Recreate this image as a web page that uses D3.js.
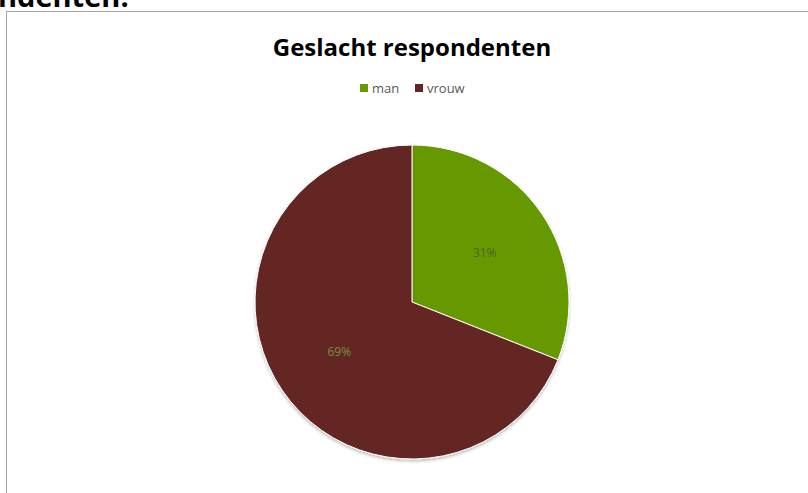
<!DOCTYPE html>
<html>
<head>
  <meta charset="utf-8">
  <title>Geslacht respondenten</title>
  <script src="https://cdn.jsdelivr.net/npm/d3@7"></script>
  <style>
    body { margin: 0; background: #fff; }
    svg { display: block; }
  </style>
</head>
<body>
<svg id="mainsvg" width="808" height="493"></svg>
<script>
  // data
  const categories = ['man', 'vrouw'];
  const values = [31, 69];
  const labels = ['31%', '69%'];
  const colors = ['#669900', '#632523'];
  const labelColors = ['#4f6228', '#77933c'];

  const svg = d3.select('#mainsvg');

  // heading from the page above the chart, cut off by the top edge
  svg.append('text')
    .attr('x', -2)
    .attr('y', 7)
    .attr('font-family', 'Open Sans, sans-serif')
    .attr('font-weight', 'bold')
    .attr('font-size', 29)
    .attr('fill', '#000')
    .text('ndenten:');

  // chart frame (runs off right and bottom)
  svg.append('rect')
    .attr('x', 6.5)
    .attr('y', 11.5)
    .attr('width', 900)
    .attr('height', 600)
    .attr('fill', '#fff')
    .attr('stroke', '#a6a6a6')
    .attr('stroke-width', 1);

  // title
  svg.append('text')
    .attr('x', 412)
    .attr('y', 56)
    .attr('text-anchor', 'middle')
    .attr('font-family', 'Open Sans, sans-serif')
    .attr('font-weight', 'bold')
    .attr('font-size', 24)
    .attr('fill', '#000')
    .text('Geslacht respondenten');

  // legend
  const legend = svg.append('g').attr('transform', 'translate(360,88)');
  const legendX = d3.scaleOrdinal().domain(categories).range([0, 55]);
  const item = legend.selectAll('g')
    .data(categories)
    .enter().append('g')
    .attr('transform', d => 'translate(' + legendX(d) + ',0)');
  item.append('rect')
    .attr('width', 8)
    .attr('height', 8)
    .attr('y', -4)
    .attr('fill', (d, i) => colors[i]);
  item.append('text')
    .attr('x', 12)
    .attr('dy', '.35em')
    .attr('font-family', 'Open Sans, sans-serif')
    .attr('font-size', 13)
    .attr('fill', '#595959')
    .text(d => d);

  // pie
  const cx = 412, cy = 302, r = 157;
  const pie = d3.pie().sort(null).value(d => d);
  const arc = d3.arc().innerRadius(0).outerRadius(r);
  const labelArc = d3.arc().innerRadius(r * 0.56).outerRadius(r * 0.56);

  const defs = svg.append('defs');
  const filter = defs.append('filter').attr('id', 'shadow')
    .attr('x', '-10%').attr('y', '-10%').attr('width', '120%').attr('height', '120%');
  filter.append('feDropShadow')
    .attr('dx', 0).attr('dy', 2).attr('stdDeviation', 1.5)
    .attr('flood-color', '#000').attr('flood-opacity', 0.25);

  const g = svg.append('g').attr('transform', 'translate(' + cx + ',' + cy + ')');
  const arcs = pie(values);

  g.selectAll('path')
    .data(arcs)
    .enter().append('path')
    .attr('d', arc)
    .attr('fill', (d, i) => colors[i])
    .attr('stroke', '#fff')
    .attr('stroke-width', 1)
    .attr('filter', 'url(#shadow)');

  g.selectAll('text.lbl')
    .data(arcs)
    .enter().append('text')
    .attr('class', 'lbl')
    .attr('transform', d => 'translate(' + labelArc.centroid(d) + ')')
    .attr('text-anchor', 'middle')
    .attr('dy', '.35em')
    .attr('font-family', 'Open Sans, sans-serif')
    .attr('font-size', 12)
    .attr('fill', (d, i) => labelColors[i])
    .text((d, i) => labels[i]);
</script>
</body>
</html>
